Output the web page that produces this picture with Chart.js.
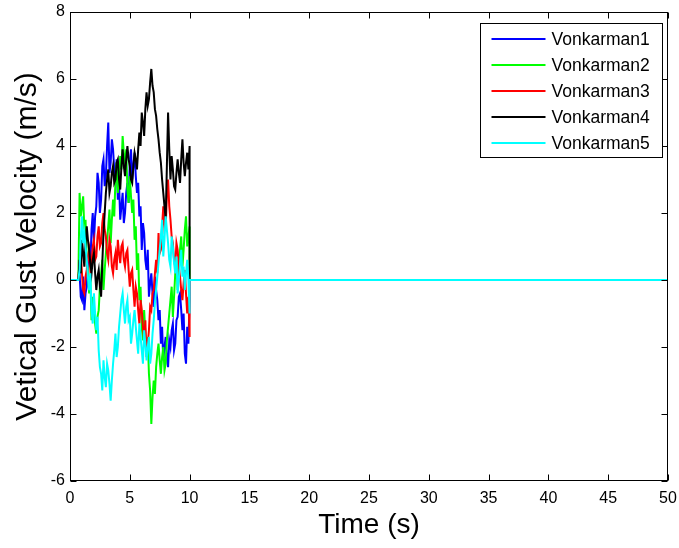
<!DOCTYPE html>
<html>
<head>
<meta charset="utf-8">
<script src="https://cdn.jsdelivr.net/npm/chart.js@4.4.0/dist/chart.umd.min.js"></script>
<style>
  html, body { margin: 0; padding: 0; background: #fff; }
  #wrap { width: 679px; height: 548px; }
</style>
</head>
<body>
<div id="wrap"><canvas id="gustChart" width="679" height="548"></canvas></div>
<script>
// gust velocity samples (m/s), every 0.1 s
const timeSteps = [0.8, 0.9, 1.0, 1.1, 1.2, 1.3, 1.4, 1.5, 1.6, 1.7, 1.8, 1.9, 2.0, 2.1, 2.2, 2.3, 2.4, 2.5, 2.6, 2.7,
    2.8, 2.9, 3.0, 3.1, 3.2, 3.3, 3.4, 3.5, 3.6, 3.7, 3.8, 3.9, 4.0, 4.1, 4.2, 4.3, 4.4, 4.5, 4.6, 4.7,
    4.8, 4.9, 5.0, 5.1, 5.2, 5.3, 5.4, 5.5, 5.6, 5.7, 5.8, 5.9, 6.0, 6.1, 6.2, 6.3, 6.4, 6.5, 6.6, 6.7,
    6.8, 6.9, 7.0, 7.1, 7.2, 7.3, 7.4, 7.5, 7.6, 7.7, 7.8, 7.9, 8.0, 8.1, 8.2, 8.3, 8.4, 8.5, 8.6, 8.7,
    8.8, 8.9, 9.0, 9.1, 9.2, 9.3, 9.4, 9.5, 9.6, 9.7, 9.8, 9.9, 10.0];

const vonkarman1 = [0.2, -0.5, -0.6, 0.1, -0.9, -0.4, -0.2, 0.5, 0.8, 0.4, 1.5, 2.0, 1.1, 1.9, 2.2, 3.2, 2.9, 2.0, 2.4, 3.4,
    3.6, 2.8, 3.1, 4.0, 4.7, 3.2, 3.5, 4.2, 3.9, 3.3, 3.0, 3.6, 2.4, 2.9, 1.8, 2.2, 2.6, 1.7, 2.0, 2.6,
    2.9, 2.3, 3.5, 3.9, 3.0, 3.4, 3.8, 3.1, 2.6, 2.9, 1.9, 2.2, 0.9, 1.7, 1.4, 0.6, 0.3, 0.9, -0.5, -0.1,
    0.2, -0.4, -0.8, 0.1, -0.3, -0.6, -1.2, -0.9, -1.9, -1.4, -2.4, -2.0, -1.7, -2.3, -2.6, -1.8, -2.0, -1.5, -1.3, -2.1,
    -1.9, -1.2, -1.1, -0.5, -0.4, -0.9, -1.5, -1.0, -2.2, -2.5, -1.4, -1.9, -0.6];
const vonkarman2 = [2.6, 1.9, 2.2, 2.5, 1.5, 1.8, 0.6, 0.2, -0.4, 0.1, -1.2, -0.5, -0.8, -1.3, -1.6, -1.1, -0.9, -0.2, 0.2, 0.6,
    -0.3, 0.3, 0.8, 1.2, 1.6, 2.1, 1.1, 1.8, 2.4, 1.9, 3.0, 3.5, 2.6, 3.2, 3.7, 3.3, 4.3, 3.8, 3.4, 3.9,
    2.7, 2.3, 3.1, 2.5, 2.0, 2.4, 1.2, 1.6, 0.3, 0.8, -0.6, -0.2, -1.4, -1.8, -0.9, -1.6, -2.2, -1.7, -2.8, -3.3,
    -4.3, -3.5, -3.0, -3.4, -2.6, -2.2, -1.9, -2.4, -2.8, -2.3, -2.0, -2.7, -2.5, -1.8, -1.4, -1.0, -0.6, -0.2, -1.1, -0.5,
    0.2, 0.6, -0.3, 0.3, 0.9, 1.3, 0.4, 0.9, 1.5, 1.9, 1.0, 1.3, 1.6];
const vonkarman3 = [0.5, 0.8, 0.2, -0.3, -0.4, 0.1, 0.3, 0.7, 0.9, 0.3, 0.5, 1.0, 1.2, 0.6, 0.7, 1.3, 1.6, 1.0, 1.1, 1.7,
    2.0, 1.5, 1.3, 0.8, 0.6, 1.2, 1.0, 0.4, 0.2, 0.6, 0.8, 0.3, 1.2, 0.8, 0.5, 1.0, 1.1, 0.6, 0.4, 0.8,
    0.9, 0.3, -0.2, 0.2, 0.3, -0.3, -0.8, -0.2, -0.4, -0.9, -1.3, -0.6, -0.9, -1.4, -1.8, -1.2, -2.3, -1.9, -1.5, -0.8,
    -0.9, -0.4, -0.3, 0.2, 0.6, 0.2, 1.4, 0.8, 0.9, 1.6, 2.2, 1.5, 1.6, 2.5, 3.0, 2.2, 1.8, 1.3, 1.1, 0.6,
    0.4, 1.1, 0.9, 0.4, 0.1, -0.3, -0.6, -0.1, 0.3, -0.4, -1.0, -0.5, -1.7];
const vonkarman4 = [0.6, 0.2, 1.2, 0.8, 0.4, 1.1, 1.6, 1.2, 0.9, 0.5, 0.2, 0.6, 0.8, 0.2, -0.3, 0.1, 0.3, -0.2, -0.5, 0.5,
    1.4, 2.0, 2.6, 3.0, 3.3, 2.6, 2.8, 3.2, 3.4, 2.9, 3.0, 3.5, 3.6, 3.0, 2.7, 3.4, 3.9, 3.4, 3.1, 3.6,
    4.0, 3.6, 3.4, 3.0, 2.9, 3.4, 3.8, 3.6, 3.3, 3.9, 4.4, 4.0, 5.0, 4.7, 4.3, 5.1, 5.6, 5.2, 5.4, 5.9,
    6.3, 5.8, 5.6, 5.1, 4.9, 4.5, 4.2, 3.8, 3.5, 3.0, 2.6, 2.2, 1.8, 3.4, 5.0, 3.9, 3.0, 3.7, 3.3, 2.8,
    2.7, 3.2, 3.6, 3.2, 2.9, 3.6, 4.2, 3.5, 3.1, 3.5, 3.8, 3.3, 4.0];
const vonkarman5 = [0.3, 1.2, 1.9, 1.1, 1.4, 1.0, 0.6, 0.1, -0.3, 0.2, -0.9, -1.3, -0.4, -1.0, -1.5, -1.1, -2.1, -2.6, -2.8, -3.3,
    -2.4, -2.9, -3.2, -2.5, -2.7, -3.1, -3.6, -3.0, -2.5, -2.1, -1.6, -2.3, -2.0, -1.4, -1.0, -0.6, -0.4, -0.9, -1.3, -0.8,
    -0.6, -1.2, -1.1, -1.9, -1.6, -1.2, -0.9, -1.4, -1.8, -2.2, -1.3, -1.7, -2.1, -2.5, -1.5, -1.9, -2.4, -2.0, -1.7, -2.5,
    -2.2, -1.6, -1.2, -0.7, -0.3, 0.1, 0.5, 0.9, 1.3, 1.8, 0.7, 1.2, 1.9, 1.5, 1.1, 0.6, 0.4, 1.3, 1.0, 0.5,
    0.2, 0.7, -0.4, 0.0, 0.5, 0.9, 0.1, 0.4, -0.3, 0.2, 0.6, 0.0, -1.0];

// signal is zero before the gust starts and after it ends
const quietBefore = [0, 0.7];
const quietAfter = [10.0, 50];

const seriesNames = ['Vonkarman1', 'Vonkarman2', 'Vonkarman3', 'Vonkarman4', 'Vonkarman5'];
const seriesValues = [vonkarman1, vonkarman2, vonkarman3, vonkarman4, vonkarman5];
const seriesColors = ['#0000ff', '#00ff00', '#ff0000', '#000000', '#00ffff'];

const xTicks = [0, 5, 10, 15, 20, 25, 30, 35, 40, 45, 50];
const yTicks = [-6, -4, -2, 0, 2, 4, 6, 8];

function buildPoints(values) {
    const pts = quietBefore.map(t => ({ x: t, y: 0 }));
    timeSteps.forEach((t, i) => pts.push({ x: t, y: values[i] }));
    quietAfter.forEach(t => pts.push({ x: t, y: 0 }));
    return pts;
}

// box, inward ticks and legend drawn the matlab way
const matlabFrame = {
    id: 'matlabFrame',
    afterDatasetsDraw(chart) {
        const { ctx, chartArea: a, scales: { x, y } } = chart;
        const L = Math.round(a.left) + 0.5, R = Math.round(a.right) - 0.5;
        const T = Math.round(a.top) + 0.5, B = Math.round(a.bottom) - 0.5;
        ctx.save();
        ctx.strokeStyle = '#000';
        ctx.lineWidth = 1;
        ctx.beginPath();
        xTicks.forEach(v => {
            const px = Math.round(x.getPixelForValue(v)) + 0.5;
            ctx.moveTo(px, B); ctx.lineTo(px, B - 6);
            ctx.moveTo(px, T); ctx.lineTo(px, T + 6);
        });
        yTicks.forEach(v => {
            const py = Math.round(y.getPixelForValue(v)) + 0.5;
            ctx.moveTo(L, py); ctx.lineTo(L + 6, py);
            ctx.moveTo(R, py); ctx.lineTo(R - 6, py);
        });
        ctx.stroke();
        ctx.strokeRect(L, T, R - L, B - T);

        // legend box
        const boxW = 182, boxH = 134;
        const bx = Math.round(a.right - 6 - boxW) + 0.5, by = Math.round(a.top + 11) + 0.5;
        ctx.fillStyle = '#fff';
        ctx.fillRect(bx, by, boxW, boxH);
        ctx.strokeRect(bx, by, boxW, boxH);
        ctx.font = '17.5px "Liberation Sans", Arial, sans-serif';
        ctx.textBaseline = 'middle';
        seriesNames.forEach((name, i) => {
            const ry = Math.round(by + 15 + i * 26.2);
            ctx.strokeStyle = seriesColors[i];
            ctx.lineWidth = 2;
            ctx.beginPath();
            ctx.moveTo(bx + 11, ry); ctx.lineTo(bx + 65, ry);
            ctx.stroke();
            ctx.fillStyle = '#000';
            ctx.fillText(name, bx + 71, ry + 1);
        });
        ctx.restore();
    }
};

const tickFont = { family: '"Liberation Sans", Arial, sans-serif', size: 16 };

const ctx = document.getElementById('gustChart').getContext('2d');
const gustChart = new Chart(ctx, {
    type: 'line',
    data: {
        datasets: seriesNames.map((name, i) => ({
            label: name,
            data: buildPoints(seriesValues[i]),
            borderColor: seriesColors[i],
            backgroundColor: seriesColors[i],
            borderWidth: 2,
            pointRadius: 0,
            tension: 0,
            order: seriesNames.length - i  // last series on top, like matlab
        }))
    },
    options: {
        responsive: false,
        animation: false,
        layout: { padding: { top: 12, right: 11, left: 0, bottom: 0 } },
        plugins: { legend: { display: false }, tooltip: { enabled: false } },
        scales: {
            x: {
                type: 'linear',
                min: 0,
                max: 50,
                afterFit(scale) {
                    scale.height = 67;
                    scale.paddingLeft = 0;
                    scale.paddingRight = 0;
                },
                grid: { display: false, drawTicks: false },
                border: { display: false },
                ticks: { stepSize: 5, padding: 8, color: '#000', font: tickFont, maxRotation: 0 },
                title: {
                    display: true, text: 'Time (s)', color: '#000',
                    font: { family: '"Liberation Sans", Arial, sans-serif', size: 28 },
                    padding: { bottom: 6 }
                }
            },
            y: {
                type: 'linear',
                min: -6,
                max: 8,
                afterFit(scale) {
                    scale.width = 70;
                    scale.paddingTop = 0;
                    scale.paddingBottom = 0;
                },
                grid: { display: false, drawTicks: false },
                border: { display: false },
                ticks: { stepSize: 2, padding: 5, color: '#000', font: tickFont },
                title: {
                    display: true, text: 'Vetical Gust Velocity (m/s)', color: '#000',
                    font: { family: '"Liberation Sans", Arial, sans-serif', size: 30 },
                    padding: { top: 10 }
                }
            }
        }
    },
    plugins: [matlabFrame]
});
</script>
</body>
</html>
